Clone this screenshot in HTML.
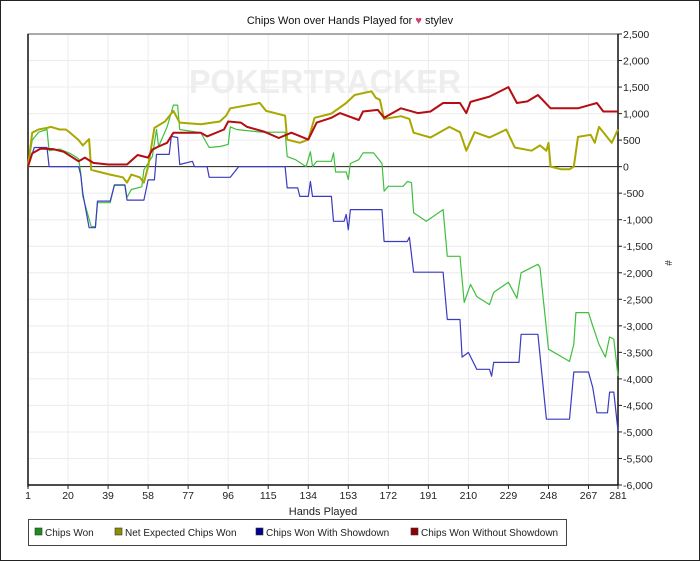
<!DOCTYPE html>
<html><head><meta charset="utf-8"><style>
body{margin:0;background:#fff;font-family:"Liberation Sans",sans-serif}
#wrap{position:relative;width:698px;height:559px;border:1px solid #222;background:#fff;overflow:hidden}
svg text{font-family:"Liberation Sans",sans-serif}
</style></head><body>
<div id="wrap">
<svg id="chart" width="698" height="559"></svg>
</div>
<script>
const xTicks=[1,20,39,58,77,96,115,134,153,172,191,210,229,248,267,281];
const yTicks=[2500,2000,1500,1000,500,0,-500,-1000,-1500,-2000,-2500,-3000,-3500,-4000,-4500,-5000,-5500,-6000];
const seriesNames=["Chips Won","Net Expected Chips Won","Chips Won With Showdown","Chips Won Without Showdown"];
const greenHands=[1,3,6,10,11,16,21,25,26,27,31,33,34,40,42,47,48,50,55,56,60,62,63,67,70,72,73,83,87,92,96,97,100,112,123,124,128,133,135,136,138,145,146,147,152,153,154,158,160,165,169,170,172,179,181,183,184,190,198,200,206,208,211,214,220,222,229,233,235,243,244,248,258,260,261,267,269,272,275,277,279,281];
const greenValues=[0,500,650,700,300,330,250,150,-110,-560,-1130,-1130,-680,-680,-340,-340,-580,-430,-380,-60,190,700,380,750,1160,1160,700,640,360,380,420,750,700,650,650,190,130,0,280,0,100,100,260,-100,-100,-240,60,130,260,260,60,-460,-370,-370,-280,-300,-870,-1030,-810,-1690,-1690,-2560,-2220,-2450,-2600,-2370,-2180,-2480,-2000,-1840,-1900,-3440,-3670,-3350,-2750,-2750,-3000,-3350,-3590,-3210,-3250,-3950];
const yellowHands=[1,3,6,10,12,16,19,21,25,27,30,31,35,40,46,48,50,54,56,58,61,66,70,73,83,92,95,97,111,114,123,124,130,134,137,145,152,156,164,166,168,170,178,182,184,192,201,206,209,213,220,228,232,240,244,247,248,249,254,258,260,262,268,270,272,278,281];
const yellowValues=[0,640,700,730,750,700,700,640,500,400,520,-60,-100,-150,-200,-300,-150,-200,-300,0,730,850,1050,830,800,850,960,1100,1200,1050,960,510,450,510,920,1000,1200,1350,1420,1300,1260,900,950,900,640,550,750,650,300,650,550,700,360,300,400,300,450,0,-50,-50,0,560,600,450,750,450,700];
const blueHands=[1,4,10,11,25,26,27,30,33,34,40,42,47,48,56,58,61,62,68,69,72,73,79,80,86,87,97,101,123,124,129,130,134,135,136,145,146,151,152,153,154,169,170,181,182,184,198,200,206,207,210,214,220,221,222,234,235,243,247,258,260,267,269,271,276,277,279,281];
const blueValues=[0,360,360,0,0,-150,-500,-1150,-1150,-650,-650,-350,-350,-630,-630,-250,-250,230,230,570,550,40,100,0,0,-200,-200,0,0,-400,-400,-560,-560,-280,-560,-560,-1030,-1030,-900,-1190,-810,-810,-1410,-1410,-1330,-1990,-1990,-2880,-2880,-3590,-3500,-3820,-3820,-3950,-3690,-3690,-3160,-3160,-4760,-4760,-3870,-3870,-4160,-4640,-4640,-4250,-4250,-4980];
const redHands=[1,3,7,13,18,25,28,32,39,48,53,58,60,63,67,70,83,86,94,96,102,105,113,120,126,134,138,145,149,158,160,167,170,178,186,192,198,206,209,211,220,229,233,238,243,249,262,271,274,281];
const redValues=[0,250,340,330,280,100,170,70,40,40,220,170,320,380,450,640,640,570,700,850,830,750,660,540,640,510,830,920,1010,880,1040,1070,920,1100,1010,1040,1200,1200,1010,1220,1320,1500,1200,1230,1350,1100,1100,1200,1040,1040];

const NS="http://www.w3.org/2000/svg";
const svg=document.getElementById('chart');
const L=27,R=617,T=33,B=484;
const xS=h=>L+(h-1)*(R-L)/280;
const yS=v=>T+(2500-v)*(B-T)/8500;
function mk(tag,attrs,parent){const e=document.createElementNS(NS,tag);for(const k in attrs)e.setAttribute(k,attrs[k]);(parent||svg).appendChild(e);return e;}

const title=mk('text',{x:349,y:23,'text-anchor':'middle','font-size':'11',fill:'#111'});


title.textContent='Chips Won over Hands Played for ';
const ts=mk('tspan',{fill:'#d04070'},title);ts.textContent='\u2665 ';
const ts2=mk('tspan',{},title);ts2.textContent='stylev';

const wm=mk('text',{x:324,y:92,'text-anchor':'middle','font-size':'33','font-weight':'bold',fill:'#eeeeee',textLength:'272',lengthAdjust:'spacingAndGlyphs'});


wm.textContent='POKERTRACKER';

const grid=mk('g',{});


xTicks.forEach(t=>{const l=mk('line',{x1:xS(t),x2:xS(t),y1:T,y2:B,stroke:'#ececec'},grid);

});
yTicks.forEach(t=>{const l=mk('line',{x1:L,x2:R,y1:yS(t),y2:yS(t),stroke:'#ececec'},grid);

});

const frame=mk('rect',{x:L,y:T,width:R-L,height:B-T,fill:'none',stroke:'#555'});


mk('line',{x1:L,x2:L,y1:T,y2:B+2,stroke:'#111','stroke-width':1.5});
mk('line',{x1:R,x2:R,y1:T,y2:B,stroke:'#111','stroke-width':1.5});
mk('line',{x1:L,x2:R,y1:B,y2:B,stroke:'#111','stroke-width':1.5});
const zl=mk('line',{x1:L,x2:R,y1:yS(0),y2:yS(0),stroke:'#222'});



xTicks.forEach(t=>{mk('line',{x1:xS(t),x2:xS(t),y1:B,y2:B+4,stroke:'#222'});
const tx=mk('text',{x:xS(t),y:B+14,'text-anchor':'middle','font-size':'10.5',fill:'#222'});


tx.textContent=t;});
yTicks.forEach(t=>{mk('line',{x1:R,x2:R+4,y1:yS(t),y2:yS(t),stroke:'#222'});
const tx=mk('text',{x:R+5,y:yS(t)+4,'font-size':'10.5',fill:'#222'});


tx.textContent=t.toLocaleString('en-US');});

const xt=mk('text',{x:322,y:514,'text-anchor':'middle','font-size':'11',fill:'#222'});


xt.textContent='Hands Played';
const yt=mk('text',{x:664,y:262,'text-anchor':'middle','font-size':'10',fill:'#222',transform:'rotate(90 664 262)'});


yt.textContent='#';

function line(hs,vs,color,w,name){
  const p=mk('polyline',{points:hs.map((h,i)=>xS(h).toFixed(1)+','+yS(vs[i]).toFixed(1)).join(' '),fill:'none',stroke:color,'stroke-width':w,'stroke-linejoin':'round'});
  
  
}
line(greenHands,greenValues,'#3fbf3f',1.2,'chips-won-line');
line(blueHands,blueValues,'#3b3bc0',1.2,'chips-won-with-showdown-line');
line(yellowHands,yellowValues,'#a8a800',2,'net-expected-chips-won-line');
line(redHands,redValues,'#b50d12',2,'chips-won-without-showdown-line');

const lg=mk('g',{});


mk('rect',{x:27.5,y:518.5,width:538,height:26,fill:'#fff',stroke:'#444'},lg);
const lcols=['#1a8f1a','#8f8f00','#00008f','#8f0000'];
const lx=[34,114,255,410];
seriesNames.forEach((n,i)=>{
  const e=mk('g',{},lg);
  
  
  mk('rect',{x:lx[i],y:527,width:7,height:7,fill:lcols[i],stroke:'#333','stroke-width':0.6},e);
  const t=mk('text',{x:lx[i]+10,y:535,'font-size':'10',fill:'#222'},e);t.textContent=n;
});
</script>
</body></html>
